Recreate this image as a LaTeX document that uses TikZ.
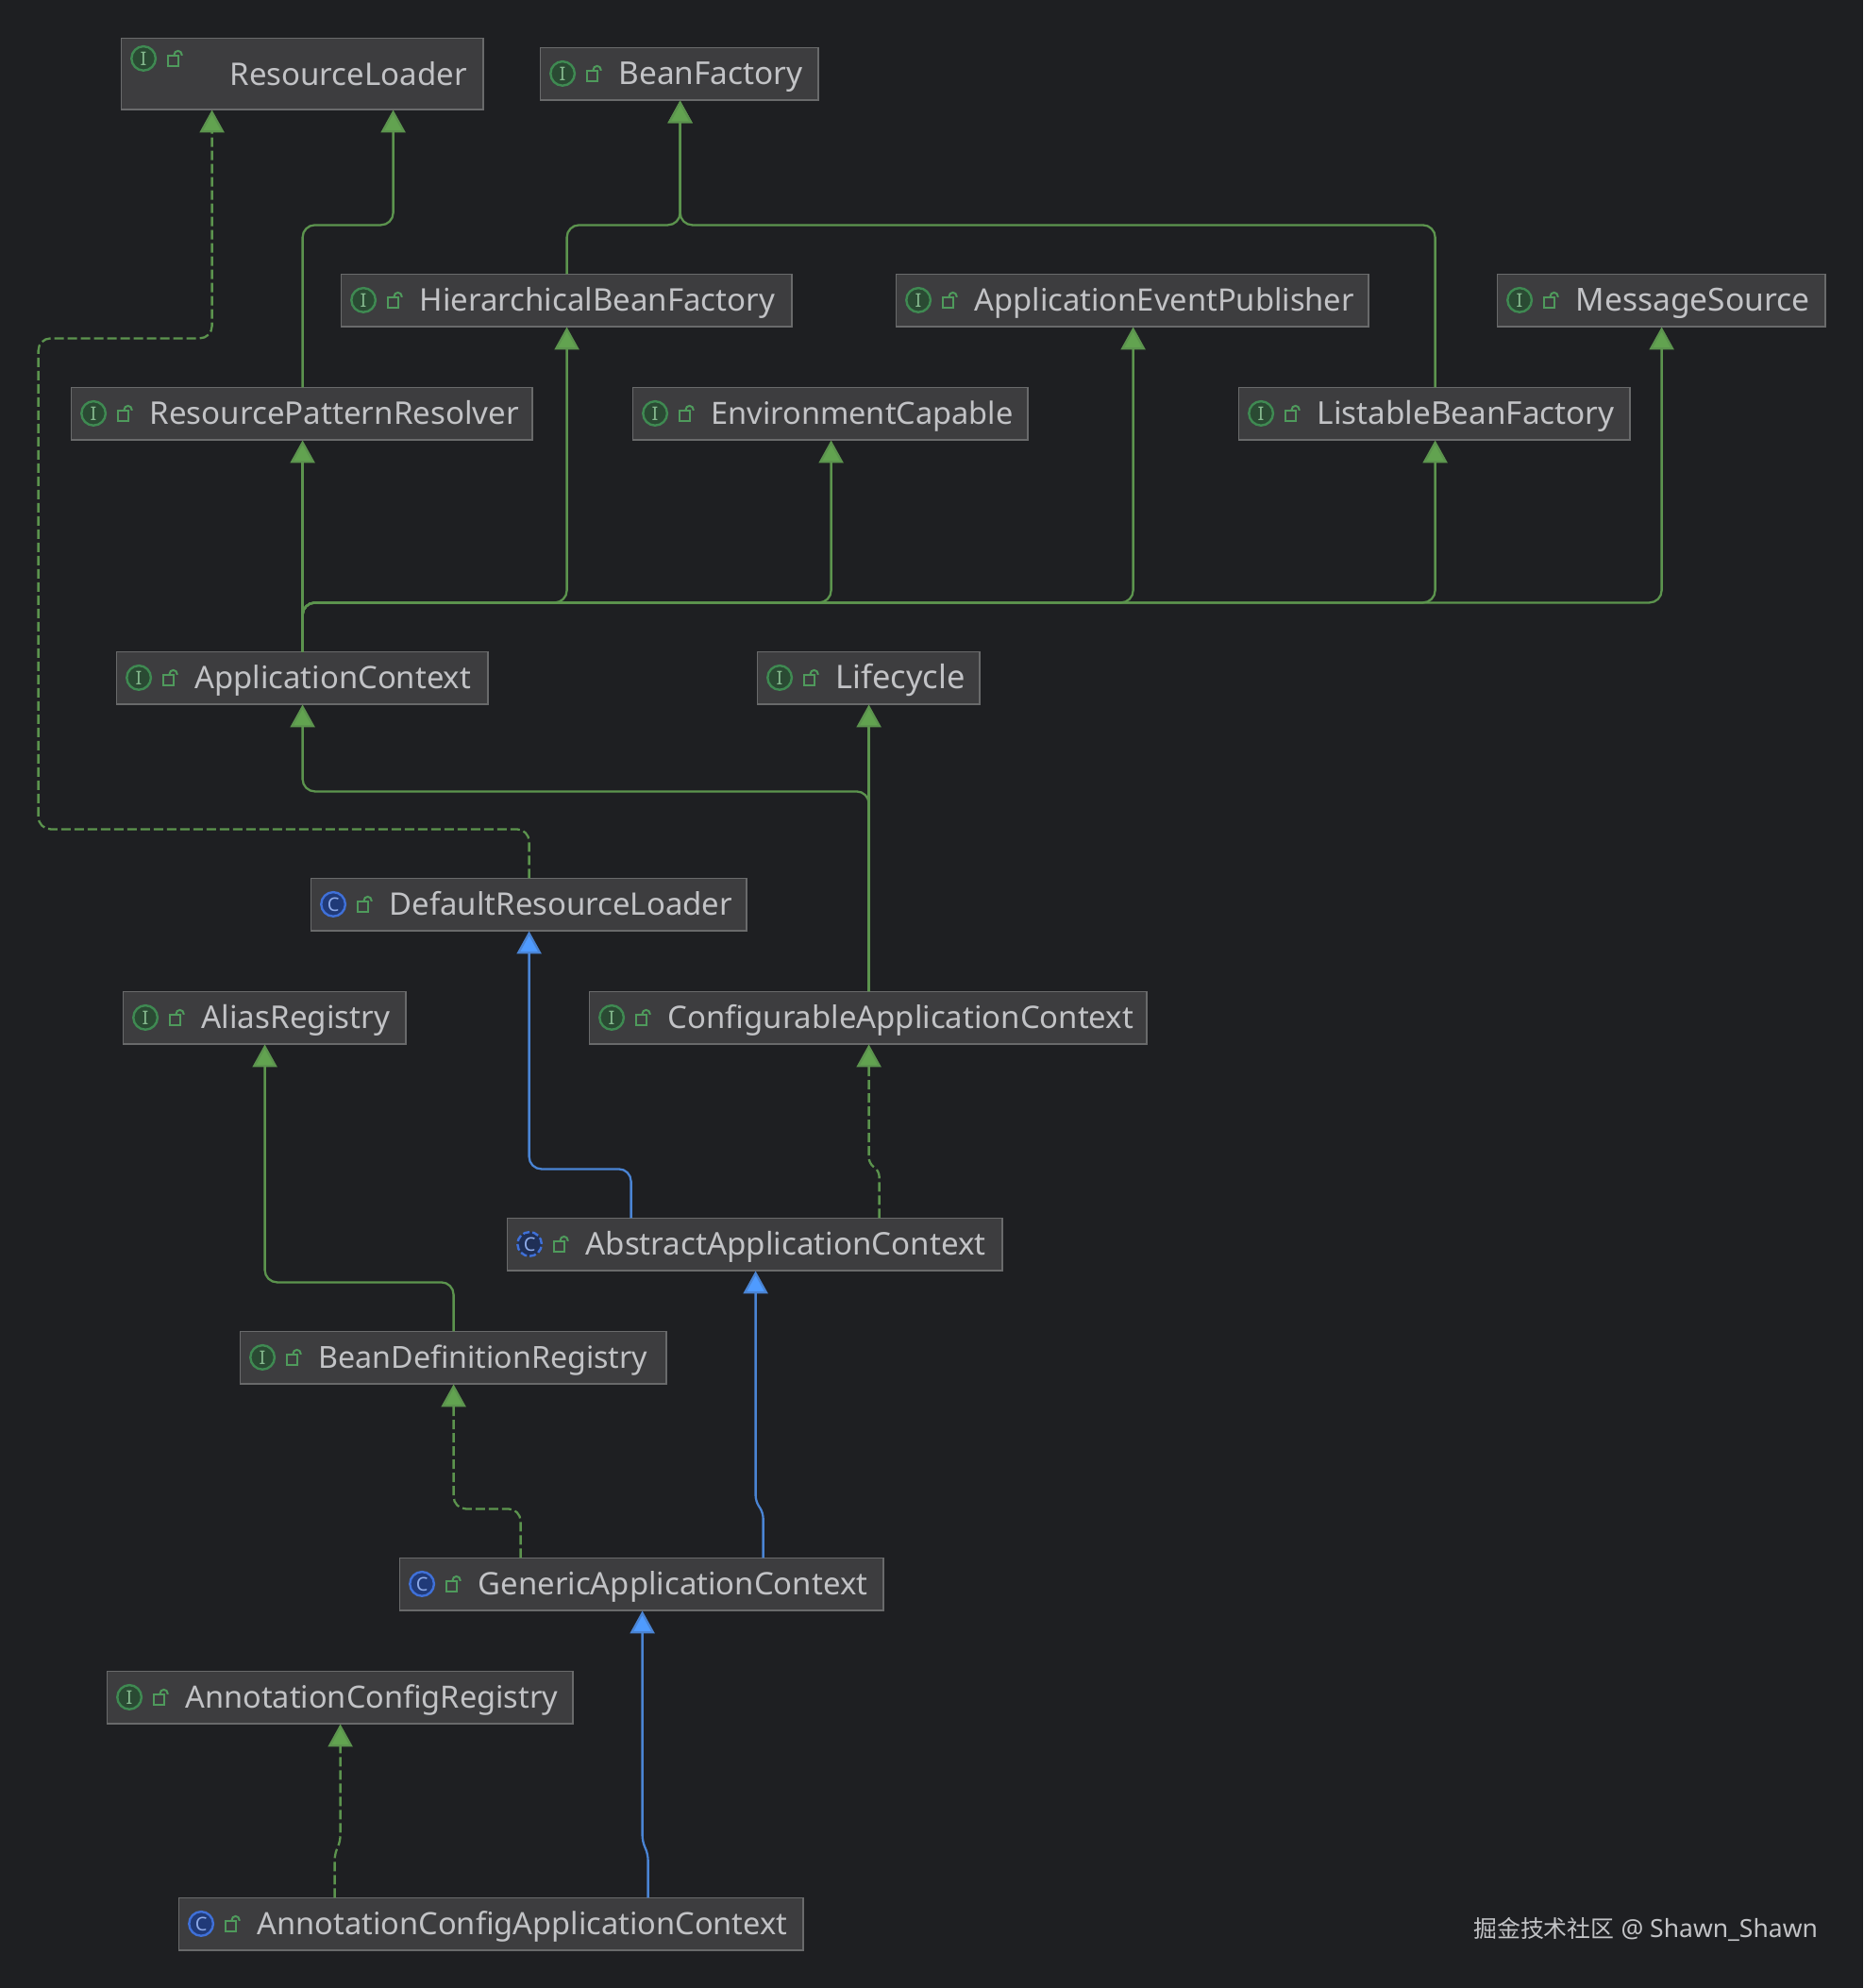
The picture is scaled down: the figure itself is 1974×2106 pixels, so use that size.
\documentclass[tikz,border=0pt]{standalone}
\usepackage{fontspec}
\setmainfont{Noto Sans}
\newfontfamily\cjkfont{Noto Sans CJK SC}
\usetikzlibrary{arrows.meta,calc}
\definecolor{bgc}{HTML}{1E1F22}
\definecolor{boxfill}{HTML}{3D3D3F}
\definecolor{boxline}{HTML}{696A6B}
\definecolor{txt}{HTML}{C2C3C6}
\definecolor{grn}{HTML}{5C944E}
\definecolor{grnhead}{HTML}{62A350}
\definecolor{blu}{HTML}{4A84D4}
\definecolor{bluhead}{HTML}{4F9BFF}
\definecolor{ifill}{HTML}{2A4A33}
\definecolor{iline}{HTML}{3F8A52}
\definecolor{cfill}{HTML}{203A78}
\definecolor{cline}{HTML}{3F70D8}
\definecolor{lockc}{HTML}{4F9A5C}
\tikzset{
  x=1pt,y=-1pt,
  umlbox/.style={draw=boxline,fill=boxfill,line width=1.4pt,inner sep=0pt,outer sep=0pt,minimum height=56pt},
  label text/.style={text=txt,inner sep=0pt,outer sep=0pt,anchor=base west},
  glyph/.style={font=\fontsize{20}{20}\selectfont,inner sep=0pt,outer sep=0pt},
  ext/.style={rounded corners=13pt,line width=2.3pt,draw=grn,-{Triangle[width=26pt,length=24pt,fill=grnhead]},shorten >=0.5pt},
  impl/.style={ext,dash pattern=on 10pt off 4pt},
  extblue/.style={rounded corners=13pt,line width=2.3pt,draw=blu,-{Triangle[width=26pt,length=24pt,fill=bluhead]},shorten >=0.5pt},
}
\newcommand{\lockicon}[2]{%
  \draw[lockc,line width=2pt] (#1,#2-3) rectangle (#1+11,#2+8);
  \draw[lockc,line width=2pt] (#1+6.5,#2-3) -- (#1+6.5,#2-4) arc[start angle=180,end angle=0,radius=4pt] -- (#1+14.5,#2-3);
}
\newcommand{\ifaceicon}[3]{%
  \draw[iline,fill=ifill,line width=2.4pt] (#2,#3) circle[radius=12.8pt];
  \node[glyph,text=lockc!70!white] (#1) at (#2,#3) {I};
}
\newcommand{\classicon}[3]{%
  \draw[cline,fill=cfill,line width=2.4pt] (#2,#3) circle[radius=12.8pt];
  \node[glyph,text=cline!60!white] (#1) at (#2,#3) {C};
}
\newcommand{\absicon}[3]{%
  \draw[cline,fill=cfill!60!bgc,line width=2.4pt,dash pattern=on 7pt off 3pt] (#2,#3) circle[radius=12.8pt];
  \node[glyph,text=cline!60!white] (#1) at (#2,#3) {C};
}
% \umlnode{name}{x1}{y1}{x2}{y2}{icon macro}{text}{font size}
\newcommand{\umlnode}[8]{%
  \node[umlbox,minimum width=#4pt-#2pt-0.5pt,minimum height=#5pt-#3pt-0.5pt,anchor=north west] (#1) at (#2,#3) {};
  #6{#1-icon}{#2+23.5}{#3+27.5}
  \lockicon{#2+49.5}{#3+27.5}
  \node[label text,font=\fontsize{#8}{36}\selectfont] (#1-label) at (#2+83,#3+39) {#7};
}
\begin{document}
\begin{tikzpicture}
\useasboundingbox[fill=bgc] (0,0) rectangle (1974,2106);
\begin{scope}[shift={(0.6,0.4)}]
% boxes
\node[umlbox,minimum width=383.5pt,minimum height=75.5pt,anchor=north west] (rl) at (128,40) {};
\ifaceicon{rl-icon}{151.5}{61.5}
\lockicon{177.5}{61.5}
\node[label text,font=\fontsize{33}{36}\selectfont] (rl-label) at (243,90) {ResourceLoader};

\umlnode{bf}{572}{50}{867}{106}{\ifaceicon}{BeanFactory}{33.4}
\umlnode{hbf}{361}{290}{839}{346}{\ifaceicon}{HierarchicalBeanFactory}{33}
\umlnode{aep}{949}{290}{1450}{346}{\ifaceicon}{ApplicationEventPublisher}{32.7}
\umlnode{ms}{1586}{290}{1934}{346}{\ifaceicon}{MessageSource}{33.6}
\umlnode{rpr}{75}{410}{564}{466}{\ifaceicon}{ResourcePatternResolver}{33.1}
\umlnode{ec}{670}{410}{1089}{466}{\ifaceicon}{EnvironmentCapable}{32.5}
\umlnode{lbf}{1312}{410}{1727}{466}{\ifaceicon}{ListableBeanFactory}{33.3}
\umlnode{ac}{123}{690}{517}{746}{\ifaceicon}{ApplicationContext}{32.8}
\umlnode{lc}{802}{690}{1038}{746}{\ifaceicon}{Lifecycle}{34.4}
\umlnode{drl}{329}{930}{791}{986}{\classicon}{DefaultResourceLoader}{32.9}
\umlnode{ar}{130}{1050}{430}{1106}{\ifaceicon}{AliasRegistry}{33.2}
\umlnode{cac}{624}{1050}{1215}{1106}{\ifaceicon}{ConfigurableApplicationContext}{32.9}
\umlnode{aac}{537}{1290}{1062}{1346}{\absicon}{AbstractApplicationContext}{33.1}
\umlnode{bdr}{254}{1410}{706}{1466}{\ifaceicon}{BeanDefinitionRegistry}{32.2}
\umlnode{gac}{423}{1650}{936}{1706}{\classicon}{GenericApplicationContext}{32.9}
\umlnode{acr}{113}{1770}{607}{1826}{\ifaceicon}{AnnotationConfigRegistry}{32.5}
\umlnode{acac}{189}{2010}{851}{2066}{\classicon}{AnnotationConfigApplicationContext}{32.6}

% connectors
\draw[ext] (320,0 |- rpr.north) -- (320,238) -- (416,238) -- (416,0 |- rl.south);
\draw[impl] (560,0 |- drl.north) -- (560,878) -- (40,878) -- (40,358) -- (224,358) -- (224,0 |- rl.south);

\draw[ext] (600,0 |- hbf.north) -- (600,238) -- (720,238) -- (720,0 |- bf.south);
\draw[ext] (1520,0 |- lbf.north) -- (1520,238) -- (720,238) -- (720,0 |- bf.south);

\draw[ext] (320,0 |- ac.north) -- (320,0 |- rpr.south);
\draw[ext] (320,0 |- ac.north) -- (320,638) -- (600,638) -- (600,0 |- hbf.south);
\draw[ext] (320,0 |- ac.north) -- (320,638) -- (880,638) -- (880,0 |- ec.south);
\draw[ext] (320,0 |- ac.north) -- (320,638) -- (1200,638) -- (1200,0 |- aep.south);
\draw[ext] (320,0 |- ac.north) -- (320,638) -- (1520,638) -- (1520,0 |- lbf.south);
\draw[ext] (320,0 |- ac.north) -- (320,638) -- (1760,638) -- (1760,0 |- ms.south);

\draw[ext] (920,0 |- cac.north) -- (920,0 |- lc.south);
\draw[ext] (920,0 |- cac.north) -- (920,838) -- (320,838) -- (320,0 |- ac.south);

\draw[extblue] (668,0 |- aac.north) -- (668,1238) -- (560,1238) -- (560,0 |- drl.south);
\draw[impl,rounded corners=6pt] (931,0 |- aac.north) -- (931,1240) -- (920,1232) -- (920,0 |- cac.south);

\draw[ext] (480,0 |- bdr.north) -- (480,1358) -- (280,1358) -- (280,0 |- ar.south);
\draw[impl] (551,0 |- gac.north) -- (551,1598) -- (480,1598) -- (480,0 |- bdr.south);
\draw[extblue,rounded corners=6pt] (808,0 |- gac.north) -- (808,1602) -- (800,1590) -- (800,0 |- aac.south);

\draw[impl,rounded corners=6pt] (354,0 |- acac.north) -- (354,1964) -- (360,1950) -- (360,0 |- acr.south);
\draw[extblue,rounded corners=6pt] (686,0 |- acac.north) -- (686,1964) -- (680,1950) -- (680,0 |- gac.south);
\end{scope}

\node[text=txt,inner sep=0pt,anchor=base west,font=\fontsize{26.5}{30}\selectfont] (mark) at (1561,2052) {{\cjkfont\fontsize{24.9}{30}\selectfont 掘金技术社区} @ Shawn\_Shawn};
\end{tikzpicture}
\end{document}
